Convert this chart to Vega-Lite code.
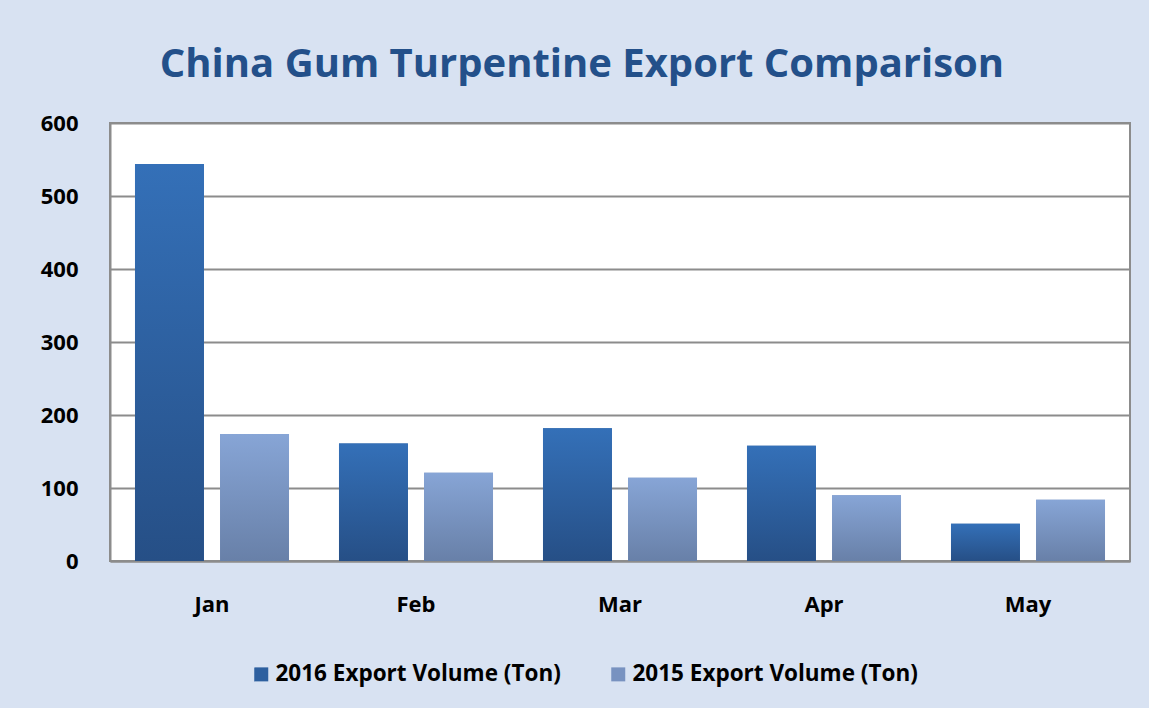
{
  "$schema": "https://vega.github.io/schema/vega-lite/v6.json",
  "autosize": "none",
  "width": 1020,
  "height": 438,
  "padding": {"left": 110, "top": 123, "right": 19, "bottom": 147},
  "background": "#d8e2f2",
  "title": {
    "text": "China Gum Turpentine Export Comparison",
    "font": "Open Sans",
    "fontSize": 40,
    "fontWeight": "bold",
    "color": "#23508a",
    "anchor": "middle",
    "frame": "group",
    "dx": -38,
    "offset": 27
  },
  "data": {
    "values": [
      {"month": "Jan", "series": "2016 Export Volume (Ton)", "value": 544},
      {"month": "Jan", "series": "2015 Export Volume (Ton)", "value": 174},
      {"month": "Feb", "series": "2016 Export Volume (Ton)", "value": 161},
      {"month": "Feb", "series": "2015 Export Volume (Ton)", "value": 121},
      {"month": "Mar", "series": "2016 Export Volume (Ton)", "value": 182},
      {"month": "Mar", "series": "2015 Export Volume (Ton)", "value": 114},
      {"month": "Apr", "series": "2016 Export Volume (Ton)", "value": 158},
      {"month": "Apr", "series": "2015 Export Volume (Ton)", "value": 90},
      {"month": "May", "series": "2016 Export Volume (Ton)", "value": 51},
      {"month": "May", "series": "2015 Export Volume (Ton)", "value": 84}
    ]
  },
  "encoding": {
    "x": {
      "field": "month",
      "type": "nominal",
      "sort": ["Jan", "Feb", "Mar", "Apr", "May"],
      "scale": {"paddingInner": 0.245, "paddingOuter": 0.1225},
      "axis": {
        "title": null,
        "labelAngle": 0,
        "ticks": false,
        "labelPadding": 33,
        "labelFont": "Open Sans",
        "labelFontSize": 22,
        "labelFontWeight": "bold",
        "labelColor": "#000000"
      }
    },
    "xOffset": {
      "field": "series",
      "type": "nominal",
      "scale": {"domain": ["2016 Export Volume (Ton)", "2015 Export Volume (Ton)"], "paddingInner": 0.19, "paddingOuter": 0}
    },
    "y": {
      "field": "value",
      "type": "quantitative",
      "scale": {"domain": [0, 600], "nice": false},
      "axis": {
        "title": null,
        "values": [0, 100, 200, 300, 400, 500, 600],
        "ticks": false,
        "labelPadding": 32,
        "labelFont": "Open Sans",
        "labelFontSize": 22,
        "labelFontWeight": "bold",
        "labelColor": "#000000"
      }
    }
  },
  "layer": [
    {
      "mark": {"type": "bar"},
      "encoding": {
        "color": {
          "field": "series",
          "type": "nominal",
          "scale": {
            "domain": ["2016 Export Volume (Ton)", "2015 Export Volume (Ton)"],
            "range": ["#2d5f9f", "#7892c0"]
          },
          "legend": {
            "title": null,
            "orient": "none",
            "direction": "horizontal",
            "legendX": 140,
            "legendY": 540,
            "symbolType": "square",
            "symbolSize": 196,
            "symbolStrokeWidth": 0,
            "symbolOpacity": 1,
            "labelFont": "Open Sans",
            "labelFontSize": 22.5,
            "labelFontWeight": "bold",
            "labelColor": "#000000",
            "labelOffset": 3,
            "labelLimit": 0,
            "columnPadding": 46
          }
        }
      }
    },
    {
      "transform": [{"filter": "datum.series === '2016 Export Volume (Ton)'"}],
      "mark": {
        "type": "bar",
        "color": {"gradient": "linear", "x1": 0, "y1": 0, "x2": 0, "y2": 1, "stops": [{"offset": 0, "color": "#3470b8"}, {"offset": 1, "color": "#264f86"}]}
      }
    },
    {
      "transform": [{"filter": "datum.series === '2015 Export Volume (Ton)'"}],
      "mark": {
        "type": "bar",
        "color": {"gradient": "linear", "x1": 0, "y1": 0, "x2": 0, "y2": 1, "stops": [{"offset": 0, "color": "#87a5d6"}, {"offset": 1, "color": "#6880a8"}]}
      }
    }
  ],
  "config": {
    "view": {"stroke": "#8c8c8c", "strokeWidth": 2, "fill": "#ffffff"},
    "axis": {
      "gridColor": "#8c8c8c",
      "gridWidth": 2,
      "gridOpacity": 1,
      "domainColor": "#8c8c8c",
      "domainWidth": 2
    }
  }
}
